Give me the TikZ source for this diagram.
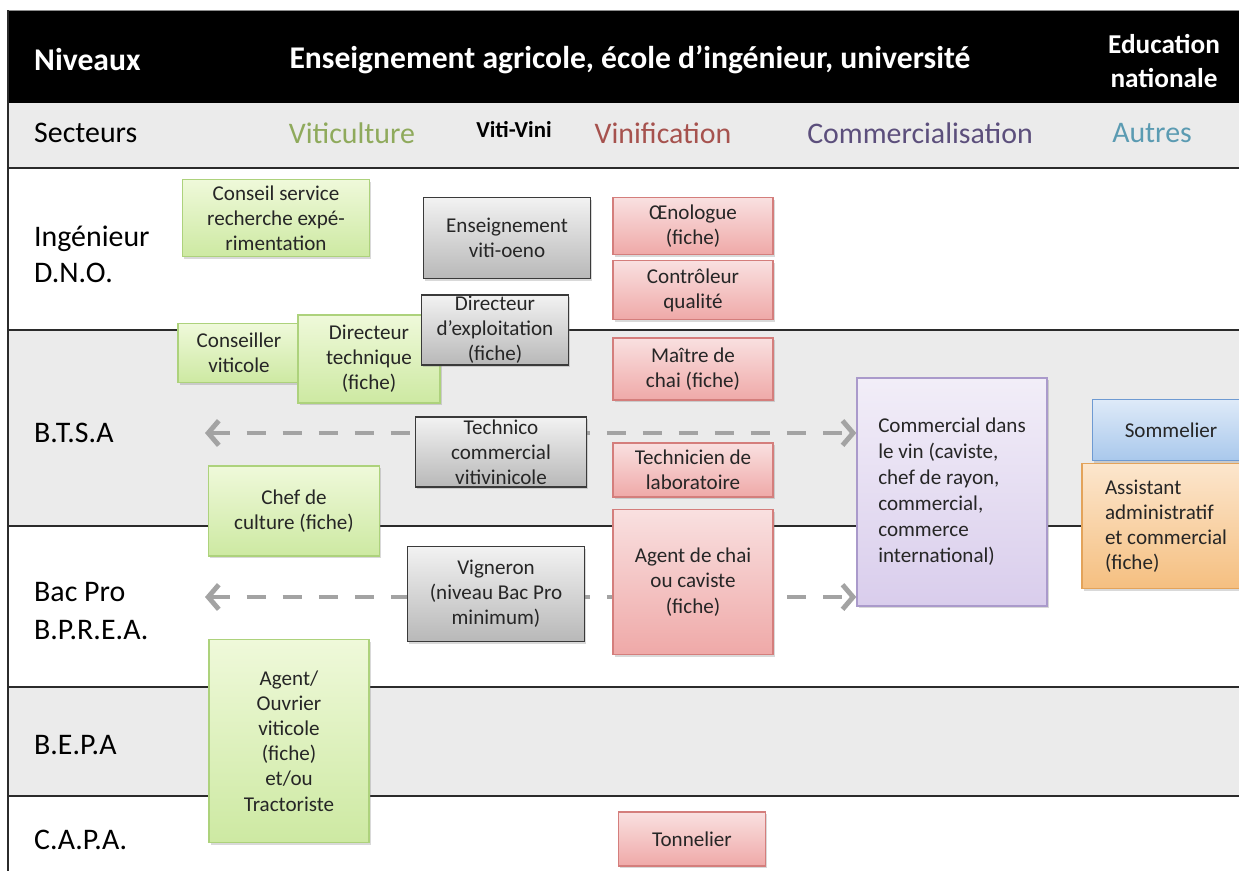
\documentclass[tikz,border=0pt]{standalone}
\usepackage{fontspec}
\setmainfont{Carlito}
\usetikzlibrary{arrows.meta,shadows}

\definecolor{rulegrey}{HTML}{2B2B2B}
\definecolor{rowgrey}{HTML}{EBEBEB}
\definecolor{flowgrey}{HTML}{A3A3A3}
\definecolor{vitilabel}{HTML}{8FAA5C}
\definecolor{vinilabel}{HTML}{A6524E}
\definecolor{commlabel}{HTML}{5C4F7C}
\definecolor{autrelabel}{HTML}{5B9BB2}
% box colours: top, bottom, border
\definecolor{vititop}{HTML}{EFF9DA}
\definecolor{vitibot}{HTML}{CDE9A2}
\definecolor{vitiline}{HTML}{ADD27C}
\definecolor{vinitop}{HTML}{F9E0E0}
\definecolor{vinibot}{HTML}{EFA9A8}
\definecolor{viniline}{HTML}{D47E7C}
\definecolor{vvtop}{HTML}{F2F2F2}
\definecolor{vvbot}{HTML}{B8B8B8}
\definecolor{vvline}{HTML}{3A3A3A}
\definecolor{commtop}{HTML}{F2EEF8}
\definecolor{commbot}{HTML}{D9CDEC}
\definecolor{commline}{HTML}{AA9ACB}
\definecolor{autretop}{HTML}{DEEAF8}
\definecolor{autrebot}{HTML}{A9C8EC}
\definecolor{autreline}{HTML}{6E9AD2}
\definecolor{admintop}{HTML}{FCE6CD}
\definecolor{adminbot}{HTML}{F5BF80}
\definecolor{adminline}{HTML}{E3A35A}

\pgfdeclarelayer{rows}
\pgfdeclarelayer{flows}
\pgfsetlayers{rows,flows,main}

\begin{document}
\begin{tikzpicture}[x=0.02cm,y=-0.02cm,
    head/.style={text=white,font=\fontsize{18}{19}\bfseries\selectfont},
    level/.style={anchor=west,align=left,font=\fontsize{17}{20.5}\selectfont},
    sector/.style={font=\fontsize{17}{20}\selectfont},
    job/.style={draw,rectangle,align=center,inner sep=1pt,line width=0.8pt,
        text=black!85,font=\fontsize{12}{14.3}\selectfont,
        drop shadow={opacity=0.3,shadow xshift=1pt,shadow yshift=-1.2pt}},
    viti/.style={job,draw=vitiline,top color=vititop,bottom color=vitibot},
    vitivini/.style={job,draw=vvline,line width=1pt,top color=vvtop,bottom color=vvbot},
    vini/.style={job,draw=viniline,top color=vinitop,bottom color=vinibot},
    comm/.style={job,draw=commline,top color=commtop,bottom color=commbot},
    autre/.style={job,draw=autreline,top color=autretop,bottom color=autrebot},
    admin/.style={job,draw=adminline,top color=admintop,bottom color=adminbot},
    flow/.style={draw=flowgrey,line width=2.8pt,dash pattern=on 11pt off 9.5pt,
        {Straight Barb[length=6pt,width=14pt]}-{Straight Barb[length=6pt,width=14pt]}}]
    \useasboundingbox (0,0) rectangle (1239,870);
    \clip (0,0) rectangle (1239,870);

    % table rows
    \begin{pgfonlayer}{rows}
        \fill[black] (8,10) rectangle (1250,103);
        \fill[rowgrey] (8,103) rectangle (1250,168);
        \fill[rowgrey] (8,330) rectangle (1250,526);
        \fill[rowgrey] (8,687) rectangle (1250,796);
        \draw[black!45] (8,10) -- (1250,10);
        \foreach \y in {168,330,526,687,796}
            \draw[rulegrey,line width=1.5pt] (8,\y) -- (1250,\y);
        \draw[rulegrey,line width=1.5pt] (8,10) -- (8,880);
    \end{pgfonlayer}

    \node(niv) at (28,60) [anchor=west,head]{Niveaux};
    \node(ens) at (630,60) [head]{Enseignement agricole, école d’ingénieur, université};
    \node(edn) at (1164,61) [head,align=center,font=\fontsize{15.5}{19}\bfseries\selectfont]{Education\\nationale};

    \node(sec) at (28,133) [level]{Secteurs};
    \node(sviti) at (352,133) [sector,text=vitilabel]{Viticulture};
    \node(svv) at (514,130) [font=\fontsize{13}{15}\bfseries\selectfont]{Viti-Vini};
    \node(svini) at (663,133) [sector,text=vinilabel]{Vinification};
    \node(scomm) at (920,133) [sector,text=commlabel]{Commercialisation};
    \node(sautre) at (1152,133) [sector,text=autrelabel]{Autres};

    \node(ing) at (28,254) [level]{Ingénieur\\D.N.O.};
    \node(btsa) at (28,433) [level]{B.T.S.A};
    \node(bac) at (28,611) [level,font=\fontsize{17}{21.5}\selectfont]{Bac Pro\\B.P.R.E.A.};
    \node(bepa) at (28,745) [level]{B.E.P.A};
    \node(capa) at (28,840) [level]{C.A.P.A.};

    % viticulture
    \node(csr) at (276,218) [viti,minimum width=3.74cm,minimum height=1.54cm]{Conseil service\\recherche expé-\\rimentation};
    \node(cvit) at (239,353) [viti,minimum width=2.44cm,minimum height=1.18cm]{Conseiller\\viticole};
    \node(dtec) at (369,359) [viti,minimum width=2.84cm,minimum height=1.76cm]{Directeur\\technique\\(fiche)};
    \node(chef) at (294,511) [viti,minimum width=3.42cm,minimum height=1.8cm]{Chef de\\culture (fiche)};
    \node(ouv) at (289,741) [viti,minimum width=3.2cm,minimum height=4.06cm]{Agent/\\Ouvrier\\viticole\\(fiche)\\et/ou\\Tractoriste};

    % viti-vini
    \node(evo) at (507,238) [vitivini,minimum width=3.34cm,minimum height=1.62cm]{Enseignement\\viti-oeno};
    \node(dexp) at (495,330) [vitivini,minimum width=2.94cm,minimum height=1.4cm,inner sep=0pt]{Directeur\\d’exploitation\\(fiche)};
    \node(tcv) at (501,452) [vitivini,minimum width=3.42cm,minimum height=1.4cm,inner sep=0pt]{Technico\\commercial\\vitivinicole};
    \node(vign) at (496,594) [vitivini,minimum width=3.54cm,minimum height=1.9cm]{Vigneron\\(niveau Bac Pro\\minimum)};

    % vinification
    \node(oeno) at (693,226) [vini,minimum width=3.2cm,minimum height=1.14cm]{Œnologue\\(fiche)};
    \node(ctrl) at (693,290) [vini,minimum width=3.2cm,minimum height=1.18cm]{Contrôleur\\qualité};
    \node(mch) at (693,369) [vini,minimum width=3.2cm,minimum height=1.24cm]{Maître de\\chai (fiche)};
    \node(tlab) at (693,470) [vini,minimum width=3.2cm,minimum height=1.08cm]{Technicien de\\laboratoire};
    \node(ach) at (693,582) [vini,minimum width=3.2cm,minimum height=2.9cm]{Agent de chai\\ou caviste\\(fiche)};
    \node(tonn) at (692,839) [vini,minimum width=2.94cm,minimum height=1.08cm]{Tonnelier};

    % commercialisation et autres
    \node(cvin) at (952,492) [comm,minimum width=3.8cm,minimum height=4.56cm,align=left,font=\fontsize{12}{14.8}\selectfont]{Commercial dans\\le vin (caviste,\\chef de rayon,\\commercial,\\commerce\\international)};
    \node(somm) at (1171,430) [autre,minimum width=3.14cm,minimum height=1.22cm]{Sommelier};
    \node(asst) at (1166,526) [admin,minimum width=3.36cm,minimum height=2.5cm,align=left]{Assistant\\administratif\\et commercial\\(fiche)};

    % passerelles
    \begin{pgfonlayer}{flows}
        \coordinate(btsal) at (205,433);
        \coordinate(bacl) at (205,597);
        \draw[flow] (btsal) -- (cvin.west |- btsal);
        \draw[flow] (bacl) -- (cvin.west |- bacl);
    \end{pgfonlayer}
\end{tikzpicture}
\end{document}
